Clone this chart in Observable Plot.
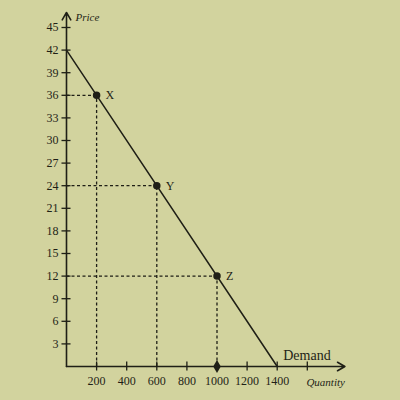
<!DOCTYPE html>
<html>
<head>
<meta charset="utf-8">
<script src="https://cdn.jsdelivr.net/npm/d3@7"></script>
<script src="https://cdn.jsdelivr.net/npm/@observablehq/plot@0.6"></script>
<style>
  html, body { margin: 0; padding: 0; background: #d2d39e; }
  #chart { width: 400px; height: 400px; }
</style>
</head>
<body>
<div id="chart"></div>
<script>
const yTicks = [3, 6, 9, 12, 15, 18, 21, 24, 27, 30, 33, 36, 39, 42, 45];
const xTicks = [200, 400, 600, 800, 1000, 1200, 1400, 1600];
const xLabels = [200, 400, 600, 800, 1000, 1200, 1400];
const demandQ = [0, 1400];
const demandP = [42, 0];
const pointNames = ["X", "Y", "Z"];
const pointQ = [200, 600, 1000];
const pointP = [36, 24, 12];
const axisTop = 47;
const axisRight = 1850;

const demand = demandQ.map((q, i) => ({q, p: demandP[i]}));
const points = pointNames.map((name, i) => ({name, q: pointQ[i], p: pointP[i]}));
const ink = "#1f1f16";
const serif = "'Liberation Serif', 'DejaVu Serif', serif";

const chart = Plot.plot({
  width: 400,
  height: 400,
  marginLeft: 66,
  marginRight: 33,
  marginTop: 27,
  marginBottom: 34,
  x: {domain: [0, 2000]},
  y: {domain: [0, 45]},
  style: {background: "#d2d39e", color: ink, fontFamily: serif},
  marks: [
    Plot.ruleY(points, {y: "p", x1: 0, x2: "q", stroke: ink, strokeWidth: 1.3, strokeDasharray: "3,2.5"}),
    Plot.ruleX(points, {x: "q", y1: 0, y2: "p", stroke: ink, strokeWidth: 1.3, strokeDasharray: "3,2.5"}),
    Plot.line(demand, {x: "q", y: "p", stroke: ink, strokeWidth: 1.5}),
    Plot.arrow([{x1: 0, y1: 0, x2: 0, y2: axisTop}], {x1: "x1", y1: "y1", x2: "x2", y2: "y2", stroke: ink, strokeWidth: 1.6, headLength: 8, bend: 0}),
    Plot.arrow([{x1: 0, y1: 0, x2: axisRight, y2: 0}], {x1: "x1", y1: "y1", x2: "x2", y2: "y2", stroke: ink, strokeWidth: 1.6, headLength: 8, bend: 0}),
    Plot.ruleY(yTicks, {y: d => d, x1: -30, x2: 30, stroke: ink, strokeWidth: 1.3}),
    Plot.ruleX(xTicks, {x: d => d, y1: -0.6, y2: 0.6, stroke: ink, strokeWidth: 1.3}),
    Plot.axisY({ticks: yTicks, tickSize: 0, tickPadding: 8, fontSize: 12, fontFamily: serif, fill: ink}),
    Plot.axisX({ticks: xLabels, tickFormat: d => String(d), tickSize: 0, tickPadding: 10, fontSize: 12, fontFamily: serif, fill: ink}),
    Plot.dot(points, {x: "q", y: "p", r: 3, fill: ink, stroke: ink}),
    Plot.dot([{q: pointQ[2], p: 0}], {x: "q", y: "p", symbol: "diamond", r: 4, fill: ink}),
    Plot.text(points, {x: "q", y: "p", text: "name", dx: 9, textAnchor: "start", fontSize: 12, fontFamily: serif, fill: ink}),
    Plot.text([{q: demandQ[1], p: 0}], {x: "q", y: "p", text: () => "Demand", dx: 6, dy: -11, textAnchor: "start", fontSize: 14, fontFamily: serif, fill: ink}),
    Plot.text([{q: axisRight, p: 0}], {x: "q", y: "p", text: () => "Quantity", dy: 16, textAnchor: "end", fontSize: 11, fontStyle: "italic", fontFamily: serif, fill: ink}),
    Plot.text([{q: 0, p: axisTop}], {x: "q", y: "p", text: () => "Price", dx: 9, dy: 5, textAnchor: "start", fontSize: 11, fontStyle: "italic", fontFamily: serif, fill: ink})
  ]
});
document.getElementById("chart").appendChild(chart);
</script>
</body>
</html>
